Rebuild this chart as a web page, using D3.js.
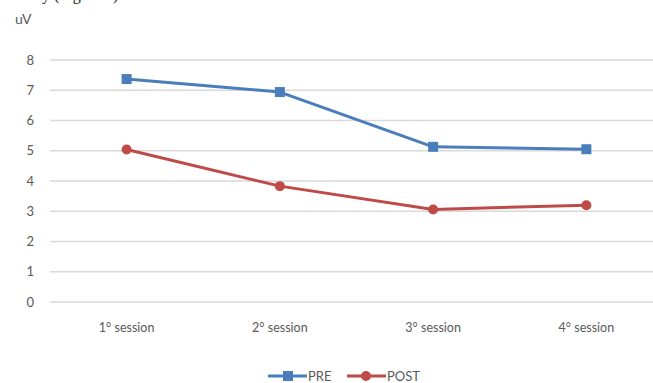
<!DOCTYPE html>
<html>
<head>
<meta charset="utf-8">
<script src="https://cdn.jsdelivr.net/npm/d3@7"></script>
<style>
  html, body { margin: 0; padding: 0; background: #fff; }
  svg { display: block; }
</style>
</head>
<body>
<svg id="chart" width="653" height="383"></svg>
<script>
const categories = ["1° session", "2° session", "3° session", "4° session"];
const preValues = [7.37, 6.94, 5.13, 5.05];
const postValues = [5.04, 3.83, 3.06, 3.20];
const yTicks = [0, 1, 2, 3, 4, 5, 6, 7, 8];
const seriesNames = ["PRE", "POST"];

const svg = d3.select("#chart");
const W = 653, H = 383;
const plotLeft = 50, plotRight = 663, plotTop = 60, plotBottom = 302;

const x = d3.scaleBand().domain(categories).range([plotLeft, plotRight]);
const y = d3.scaleLinear().domain([0, 8]).range([plotBottom, plotTop]);

const labelFont = "Lato, 'Open Sans', sans-serif";
const gray = "#595959";

// caption line running above the chart
svg.append("text")
  .attr("x", 42).attr("y", 0)
  .attr("font-family", "'Liberation Serif', 'Times New Roman', serif")
  .attr("font-size", 16).attr("fill", "#111")
  .text("y (Figure 4).");

// unit label
svg.append("text")
  .attr("x", 15).attr("y", 24)
  .attr("font-family", labelFont).attr("font-size", 14)
  .attr("fill", gray).text("uV");

// horizontal grid + y labels
const yAxis = d3.axisLeft(y).tickValues(yTicks).tickSize(0).tickPadding(0);
const gy = svg.append("g").attr("transform", `translate(${plotLeft},0)`).call(yAxis);
gy.select(".domain").remove();
gy.selectAll("text")
  .attr("x", -16)
  .attr("font-family", labelFont).attr("font-size", 13)
  .attr("fill", gray).attr("text-anchor", "end");

svg.append("g").selectAll("line").data(yTicks).join("line")
  .attr("x1", plotLeft).attr("x2", W)
  .attr("y1", d => y(d)).attr("y2", d => y(d))
  .attr("stroke", "#d9d9d9").attr("stroke-width", 1.5);

// category labels
const xAxis = d3.axisBottom(x).tickSize(0).tickPadding(0);
const gx = svg.append("g").attr("transform", `translate(0,${plotBottom + 30})`).call(xAxis);
gx.select(".domain").remove();
gx.selectAll("text")
  .attr("dy", 0)
  .attr("font-family", labelFont).attr("font-size", 12.5)
  .attr("fill", gray);

const colors = { PRE: "#4a7ebb", POST: "#be4b48" };
const cx = d => x(d) + x.bandwidth() / 2;

const line = d3.line().x((d, i) => cx(categories[i])).y(d => y(d));

function drawSeries(values, name) {
  svg.append("path").datum(values)
    .attr("d", line).attr("fill", "none")
    .attr("stroke", colors[name]).attr("stroke-width", 3)
    .attr("stroke-linejoin", "round");
}
drawSeries(preValues, "PRE");
drawSeries(postValues, "POST");

svg.append("g").selectAll("rect").data(preValues).join("rect")
  .attr("x", (d, i) => cx(categories[i]) - 5)
  .attr("y", d => y(d) - 5)
  .attr("width", 10).attr("height", 10)
  .attr("fill", colors.PRE);

svg.append("g").selectAll("circle").data(postValues).join("circle")
  .attr("cx", (d, i) => cx(categories[i]))
  .attr("cy", d => y(d))
  .attr("r", 5)
  .attr("fill", colors.POST);

// legend
const legY = 376;
const leg = svg.append("g");
const legItems = [
  { name: seriesNames[0], x0: 268 },
  { name: seriesNames[1], x0: 347 }
];
legItems.forEach(it => {
  const c = colors[it.name];
  leg.append("line").attr("x1", it.x0).attr("x2", it.x0 + 39)
    .attr("y1", legY).attr("y2", legY)
    .attr("stroke", c).attr("stroke-width", 3);
  if (it.name === "PRE") {
    leg.append("rect").attr("x", it.x0 + 15).attr("y", legY - 5)
      .attr("width", 10).attr("height", 10).attr("fill", c);
  } else {
    leg.append("circle").attr("cx", it.x0 + 19).attr("cy", legY).attr("r", 5).attr("fill", c);
  }
  leg.append("text").attr("x", it.x0 + 40).attr("y", legY + 5)
    .attr("font-family", labelFont).attr("font-size", 13)
    .attr("fill", gray).text(it.name);
});
</script>
</body>
</html>
